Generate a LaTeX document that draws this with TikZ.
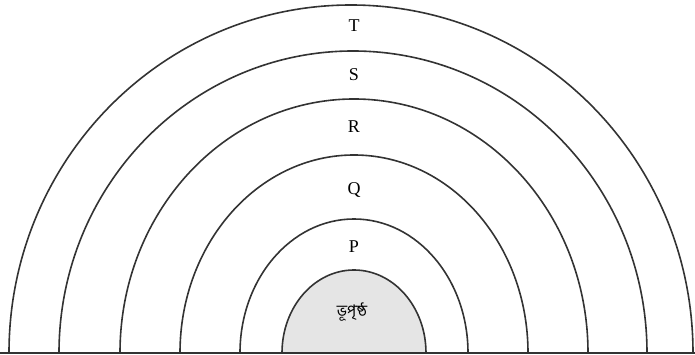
\documentclass[tikz,border=0pt]{standalone}
\usepackage{fontspec}
\setmainfont{Liberation Serif}
\newfontfamily\bngfont[Script=Bengali]{Hind Siliguri}

\begin{document}
\begin{tikzpicture}[x=1pt,y=1pt]
\useasboundingbox (-354,-2) rectangle (341,353);
\tikzset{layer/.style={draw=black!80, line width=1.6pt}}
\fill[black!10] (-72,0) arc[start angle=180,end angle=0,x radius=72,y radius=83] -- cycle;
\foreach \cx/\rx/\ry in {0/72/83,0/114/134,0/174/198,0/234/254,-1/294/302,-3/342/348}
  \draw[layer] (\cx-\rx,0) arc[start angle=180,end angle=0,x radius=\rx,y radius=\ry];
\foreach \name/\h in {T/327,S/278,R/226,Q/163,P/106}
  \node[font=\fontsize{18}{18}\selectfont] (lab\name) at (0,\h) {\name};
\node[font=\bngfont\fontsize{16}{16}\selectfont] (surface) at (-2,41) {ভূপৃষ্ঠ};
\draw[black!80, line width=2pt] (-354,0) -- (341,0);
\end{tikzpicture}
\end{document}
